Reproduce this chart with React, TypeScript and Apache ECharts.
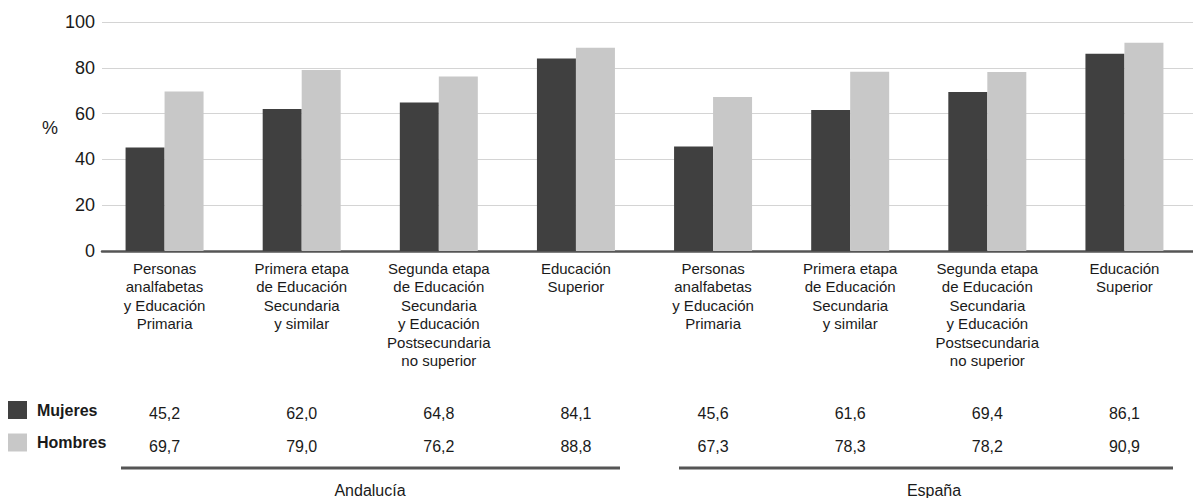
import React, { useEffect, useRef } from "react";
import * as echarts from "echarts";

const categories = [
  "Personas\nanalfabetas\ny Educación\nPrimaria",
  "Primera etapa\nde Educación\nSecundaria\ny similar",
  "Segunda etapa\nde Educación\nSecundaria\ny Educación\nPostsecundaria\nno superior",
  "Educación\nSuperior",
  "Personas\nanalfabetas\ny Educación\nPrimaria",
  "Primera etapa\nde Educación\nSecundaria\ny similar",
  "Segunda etapa\nde Educación\nSecundaria\ny Educación\nPostsecundaria\nno superior",
  "Educación\nSuperior",
];
const mujeres = [45.2, 62.0, 64.8, 84.1, 45.6, 61.6, 69.4, 86.1];
const hombres = [69.7, 79.0, 76.2, 88.8, 67.3, 78.3, 78.2, 90.9];
const regions = ["Andalucía", "España"];
const yTicks = { min: 0, max: 100, interval: 20 };

const FONT = "'Liberation Sans', Arial, Helvetica, sans-serif";
const TEXT = "#1a1a1a";
const DARK = "#404040";
const LIGHT = "#c8c8c8";

const fmt = (v: number) => v.toFixed(1).replace(".", ",");

export default function App() {
  const ref = useRef<HTMLDivElement>(null);
  useEffect(() => {
    if (!ref.current) return;
    const chart = echarts.init(ref.current, null, { renderer: "svg" });
    const hiddenCat = (data: string[], offset: number) => ({
      type: "category",
      gridIndex: 1,
      data,
      position: "bottom",
      offset,
      axisLine: { show: false },
      axisTick: { show: false },
      splitLine: { show: false },
      axisLabel: {
        interval: 0,
        margin: 0,
        fontSize: 16,
        lineHeight: 18,
        color: TEXT,
        fontFamily: FONT,
      },
    });
    chart.setOption({
      animation: false,
      backgroundColor: "#ffffff",
      textStyle: { fontFamily: FONT },
      grid: [
        { left: 102, right: 0, top: 22, height: 229 },
        { left: 96, width: 1113, top: 22, height: 229 },
      ],
      legend: {
        data: ["Mujeres", "Hombres"],
        orient: "vertical",
        left: 8,
        top: 401,
        padding: 0,
        itemWidth: 19,
        itemHeight: 18,
        itemGap: 14.5,
        icon: "rect",
        selectedMode: false,
        textStyle: {
          fontSize: 16,
          fontWeight: "bold",
          color: TEXT,
          fontFamily: FONT,
          padding: [4, 0, 0, 5],
        },
      },
      xAxis: [
        {
          type: "value",
          gridIndex: 0,
          min: 0,
          max: 1,
          axisLine: { show: true, onZero: false, lineStyle: { color: "#555555", width: 2.5 } },
          axisTick: { show: false },
          axisLabel: { show: false },
          splitLine: { show: false },
        },
        {
          type: "category",
          gridIndex: 1,
          data: categories,
          axisLine: { show: false },
          axisTick: { show: false },
          axisLabel: {
            interval: 0,
            margin: 8,
            fontSize: 15,
            lineHeight: 18.5,
            color: TEXT,
            fontFamily: FONT,
            align: "center",
          },
        },
        hiddenCat(mujeres.map(fmt), 153),
        hiddenCat(hombres.map(fmt), 186),
      ],
      yAxis: [
        {
          type: "value",
          gridIndex: 0,
          min: yTicks.min,
          max: yTicks.max,
          interval: yTicks.interval,
          axisLine: { show: false },
          axisTick: { show: false },
          axisLabel: { fontSize: 18, color: TEXT, margin: 7, fontFamily: FONT },
          splitLine: { show: true, lineStyle: { color: "#d4d4d4", width: 1 } },
        },
        {
          type: "value",
          gridIndex: 1,
          min: yTicks.min,
          max: yTicks.max,
          interval: yTicks.interval,
          show: false,
          splitLine: { show: false },
        },
      ],
      series: [
        {
          name: "Mujeres",
          type: "bar",
          xAxisIndex: 1,
          yAxisIndex: 1,
          data: mujeres,
          barWidth: 39,
          barGap: "0%",
          itemStyle: { color: DARK },
        },
        {
          name: "Hombres",
          type: "bar",
          xAxisIndex: 1,
          yAxisIndex: 1,
          data: hombres,
          barWidth: 39,
          barGap: "0%",
          itemStyle: { color: LIGHT },
        },
      ],
      graphic: [
        {
          type: "text",
          x: 50,
          y: 128,
          style: { text: "%", fontSize: 18, fill: TEXT, fontFamily: FONT, align: "center", verticalAlign: "middle" },
        },
        {
          type: "line",
          shape: { x1: 121, y1: 468, x2: 620, y2: 468 },
          style: { stroke: "#555555", lineWidth: 3 },
        },
        {
          type: "line",
          shape: { x1: 679, y1: 468, x2: 1173, y2: 468 },
          style: { stroke: "#555555", lineWidth: 3 },
        },
        {
          type: "text",
          x: 370,
          y: 490,
          style: { text: regions[0], fontSize: 16, fill: TEXT, fontFamily: FONT, align: "center", verticalAlign: "middle" },
        },
        {
          type: "text",
          x: 934,
          y: 490,
          style: { text: regions[1], fontSize: 16, fill: TEXT, fontFamily: FONT, align: "center", verticalAlign: "middle" },
        },
      ],
    });
    return () => chart.dispose();
  }, []);
  return (
    <div
      ref={ref}
      style={{ position: "fixed", left: 0, top: 0, width: 1193, height: 498, background: "#fff" }}
    />
  );
}
